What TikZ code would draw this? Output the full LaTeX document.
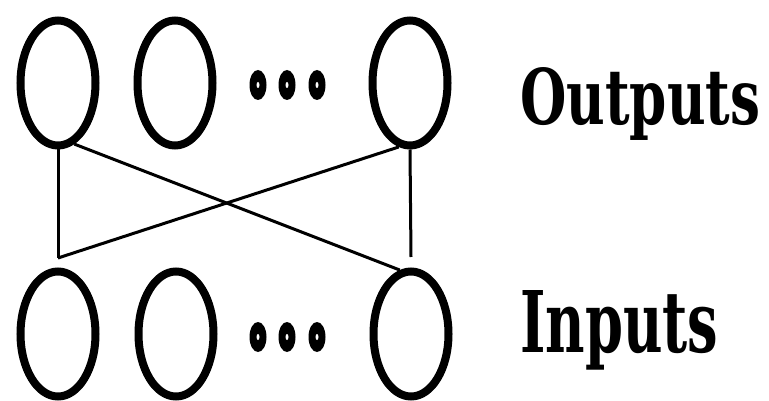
\documentclass[tikz,border=0pt]{standalone}
\usepackage{fontspec}
\usepackage{graphicx}
\usetikzlibrary{shapes.geometric}
\newfontfamily\labfont{DejaVu Serif Condensed}
\begin{document}
\begin{tikzpicture}[x=1pt,y=-1pt,
  unit/.style={draw,ellipse,line width=8pt,inner sep=0pt,minimum width=75pt,minimum height=125pt},
  wire/.style={line width=3pt},
  dotmark/.style={fill=black,ellipse,inner sep=0pt,minimum width=17pt,minimum height=30pt},
  dothole/.style={fill=white,ellipse,inner sep=0pt,minimum width=3pt,minimum height=6pt},
  lab/.style={anchor=base west,inner sep=0pt,font=\labfont\bfseries\fontsize{80}{80}\selectfont}]
\useasboundingbox (0,0) rectangle (769,401);
% outputs
\node[unit] (o1) at (58,83) {};
\node[unit] (o2) at (175,83) {};
\node[unit] (o3) at (410,83) {};
% inputs
\node[unit] (i1) at (58,334) {};
\node[unit] (i2) at (176,334) {};
\node[unit] (i3) at (411,334) {};
% dots
\foreach \n/\x in {a/258,b/287,c/317}{
  \node[dotmark] (td\n) at (\x,85) {};
  \node[dothole] at (td\n) {};
  \node[dotmark] (bd\n) at (\x,337) {};
  \node[dothole] at (bd\n) {};
}
% connectors
\coordinate (jl) at (58,258);
\coordinate (jr) at (411,257);
\draw[wire] (o1.south) -- (jl);
\draw[wire] (jl) -- (o3.260);
\draw[wire] (o1.285) -- (i3.100);
\draw[wire] (o3.south) -- (jr);
% labels
\node[lab] (out) at (520,125) {\resizebox{240pt}{57pt}{Outputs}};
\node[lab] (in) at (520,352) {\resizebox{198pt}{62pt}{Inputs}};
\end{tikzpicture}
\end{document}
